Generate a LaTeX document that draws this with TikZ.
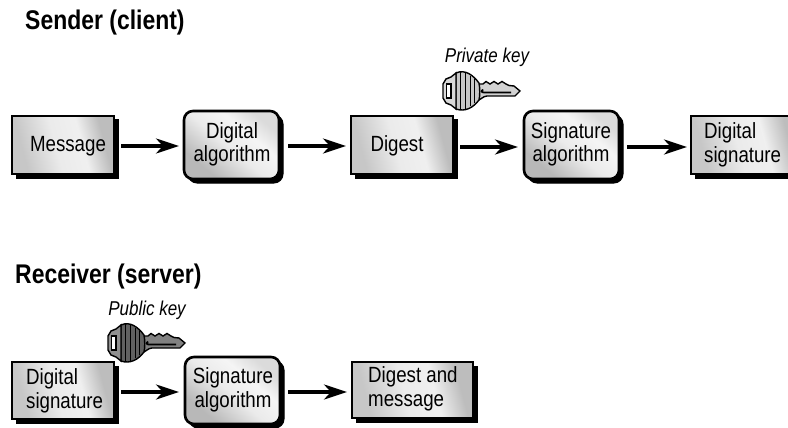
\documentclass[tikz,border=0pt]{standalone}
\usepackage{fontspec}
\setmainfont[FakeStretch=0.85]{Liberation Sans}
\usetikzlibrary{arrows.meta,shadings}
\pgfdeclareverticalshading{sqshade}{100bp}{color(0bp)=(black!22); color(28bp)=(black!22); color(46bp)=(black!8); color(60bp)=(black!6); color(72bp)=(black!26); color(100bp)=(black!26)}
\pgfdeclareverticalshading{rdshade}{100bp}{color(0bp)=(black!28); color(28bp)=(black!28); color(48bp)=(black!8); color(62bp)=(black!4); color(74bp)=(black!14); color(100bp)=(black!14)}
\tikzset{
 every node/.style={inner sep=0pt,font=\fontsize{22}{23.5}\selectfont},
 sqbox/.style={draw=black,line width=2.6pt,shading=sqshade,shading angle=-75},
 rdbox/.style={draw=black,line width=2.6pt,rounded corners=9pt,shading=rdshade,shading angle=-40},
 shad/.style={fill=black,draw=black,line width=1pt},
 flow/.style={line width=3.2pt,-{Stealth[length=23pt,width=15pt,inset=7pt]}},
 head/.style={font=\fontsize{27}{30}\selectfont\bfseries},
 keyname/.style={font=\fontsize{20}{22}\selectfont\itshape},
 lab/.style={align=left,font=\fontsize{22}{23.5}\selectfont},
 clab/.style={align=center,font=\fontsize{22}{23.5}\selectfont},
 pics/key/.style={code={
  \draw[line width=1.4pt,fill=#1!80!white] (33,-7) -- (40,-7) -- (43,-9.5) -- (47,-7) -- (51,-9.5) -- (55,-7) -- (59,-9.5) -- (63,-7) -- (66,-5.5) -- (71,-5) -- (77,0) -- (72,5) -- (44,5) .. controls (40,5) and (38,9) .. (33,10) -- cycle;
  \draw[line width=1.8pt] (40,-1.5) .. controls (38,-1) and (38,1.5) .. (41,1.5) -- (68,1.5);
  \draw[line width=1.4pt,fill=#1] (13,-18) .. controls (22,-22) and (30,-16) .. (36,-8) .. controls (37,-3) and (37,5) .. (36,9) .. controls (30,17) and (22,21) .. (13,18) -- cycle;
  \foreach \x/\t in {17/19,22/18,27/15,31/12}{\draw[line width=1pt] (\x,-\t) -- (\x,\t);}
  \draw[line width=1.4pt,fill=#1!70!white] (13,-18) -- (8,-14) -- (3,-12) -- (0,-7) -- (0,7) -- (3,12) -- (8,14) -- (13,18) -- cycle;
  \draw[line width=1.2pt,fill=white] (3.5,-7) rectangle (8,7);
 }}
}
\newcommand{\sqb}[5]{%
 \fill[shad] (#2+4,#3+4) rectangle (#4+4,#5+4);
 \path[sqbox] (#2,#3) rectangle (#4,#5);
 \coordinate (#1) at ({(#2+#4)/2},{(#3+#5)/2});}
\newcommand{\rdb}[5]{%
 \fill[shad,rounded corners=9pt] (#2+4,#3+4) rectangle (#4+4,#5+4);
 \path[rdbox] (#2,#3) rectangle (#4,#5);
 \coordinate (#1) at ({(#2+#4)/2},{(#3+#5)/2});}
\begin{document}
\begin{tikzpicture}[x=1pt,y=-1pt]
\useasboundingbox (0,0) rectangle (788,428);
\clip (0,0) rectangle (788,428);
\node[head,anchor=base west] (t1) at (25,30) {Sender (client)};
\node[head,anchor=base west] (t2) at (15,283) {Receiver (server)};
\node[keyname] (k1) at (487,57) {Private key};
\node[keyname] (k2) at (147,310) {Public key};
\pic at (443,91) {key=black!22!white};
\pic at (108,343) {key=black!62!white};

\sqb{a}{12}{116}{114}{174}
\rdb{b}{184}{111}{279}{179}
\sqb{c}{351}{116}{453}{174}
\rdb{d}{524}{111}{619}{179}
\sqb{e}{691}{116}{800}{174}
\sqb{f}{12}{362}{114}{419}
\rdb{g}{185}{357}{280}{424}
\sqb{h}{352}{362}{473}{418}

\node[clab] (na) at (68,146) {Message};
\node[clab] (nb) at (232,144.5) {Digital\\algorithm};
\node[clab] (nc) at (397,146) {Digest};
\node[clab] (nd) at (571,144.5) {Signature\\algorithm};
\node[lab,anchor=west] (ne) at (704,145) {Digital\\signature};
\node[lab,anchor=west] (nf) at (26,391) {Digital\\signature};
\node[clab] (ng) at (233,390) {Signature\\algorithm};
\node[lab,anchor=west] (nh) at (368,389) {Digest and\\message};

\coordinate (a1) at (121,146); \coordinate (a2) at (179,146);
\coordinate (b1) at (288,146); \coordinate (b2) at (346,146);
\coordinate (c1) at (460,147); \coordinate (c2) at (518,147);
\coordinate (d1) at (627,147); \coordinate (d2) at (687,147);
\coordinate (f1) at (121,392); \coordinate (f2) at (179,392);
\coordinate (g1) at (288,392); \coordinate (g2) at (347,392);
\draw[flow] (a1) -- (a2);
\draw[flow] (b1) -- (b2);
\draw[flow] (c1) -- (c2);
\draw[flow] (d1) -- (d2);
\draw[flow] (f1) -- (f2);
\draw[flow] (g1) -- (g2);
\end{tikzpicture}
\end{document}
